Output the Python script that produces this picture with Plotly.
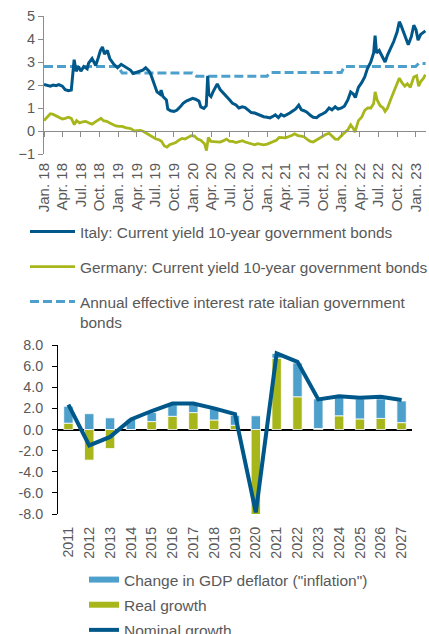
import plotly.graph_objects as go

# ---------------- Top chart data ----------------
italy_dates = [
    "2018-01-01", "2018-01-15", "2018-02-01", "2018-02-15", "2018-03-01", "2018-03-15", "2018-04-01",
    "2018-04-15", "2018-05-01", "2018-05-15", "2018-05-20", "2018-05-29", "2018-06-08", "2018-06-20",
    "2018-07-01", "2018-07-15", "2018-08-01", "2018-08-08", "2018-08-25", "2018-09-05", "2018-09-12",
    "2018-09-25", "2018-10-05", "2018-10-15", "2018-10-25", "2018-11-08", "2018-11-20", "2018-12-10",
    "2018-12-28", "2019-01-15", "2019-02-01", "2019-02-15", "2019-03-01", "2019-03-15", "2019-04-01",
    "2019-04-15", "2019-05-01", "2019-05-15", "2019-06-01", "2019-06-10", "2019-06-25", "2019-07-10",
    "2019-07-25", "2019-07-30", "2019-08-08", "2019-08-25", "2019-09-01", "2019-09-15", "2019-10-01",
    "2019-10-15", "2019-11-01", "2019-11-15", "2019-12-01", "2019-12-15", "2020-01-01", "2020-01-15",
    "2020-02-01", "2020-02-10", "2020-02-25", "2020-03-08", "2020-03-15", "2020-03-20", "2020-03-31",
    "2020-04-10", "2020-04-20", "2020-05-01", "2020-05-15", "2020-06-01", "2020-06-15", "2020-07-01",
    "2020-07-15", "2020-08-01", "2020-08-15", "2020-09-01", "2020-09-15", "2020-10-01", "2020-10-15",
    "2020-11-01", "2020-11-15", "2020-12-01", "2020-12-15", "2021-01-01", "2021-01-15", "2021-02-01",
    "2021-02-10", "2021-02-25", "2021-03-10", "2021-03-25", "2021-04-08", "2021-04-22", "2021-05-08",
    "2021-05-20", "2021-06-05", "2021-06-18", "2021-07-01", "2021-07-15", "2021-08-01", "2021-08-15",
    "2021-09-01", "2021-09-15", "2021-10-01", "2021-10-15", "2021-11-01", "2021-11-15", "2021-12-01",
    "2021-12-15", "2022-01-01", "2022-01-15", "2022-02-01", "2022-02-15", "2022-03-01", "2022-03-10",
    "2022-03-25", "2022-04-10", "2022-04-25", "2022-05-08", "2022-05-25", "2022-06-08", "2022-06-15",
    "2022-06-22", "2022-07-05", "2022-07-20", "2022-08-03", "2022-08-15", "2022-09-01", "2022-09-15",
    "2022-10-01", "2022-10-12", "2022-10-20", "2022-10-28", "2022-11-10", "2022-11-25", "2022-12-10",
    "2022-12-22", "2023-01-02", "2023-01-12", "2023-01-25", "2023-02-08", "2023-02-17",
]
italy_vals = [
    2.02, 2.00, 1.95, 2.00, 1.97, 2.02, 1.95,
    1.80, 1.75, 1.78, 2.20, 3.10, 2.60, 2.80,
    2.60, 2.80, 2.70, 2.95, 3.15, 3.00, 2.85,
    3.20, 3.50, 3.65, 3.35, 3.50, 3.15, 2.90,
    2.75, 2.90, 2.80, 2.70, 2.65, 2.50, 2.55,
    2.60, 2.65, 2.75, 2.60, 2.45, 2.10, 1.70,
    1.60, 1.78, 1.50, 1.35, 0.95, 0.88, 0.85,
    0.90, 1.05, 1.20, 1.30, 1.35, 1.42, 1.38,
    1.30, 1.05, 0.98, 1.10, 2.40, 1.60, 1.50,
    1.70, 1.90, 2.05, 1.80, 1.65, 1.50, 1.35,
    1.20, 1.13, 1.00, 1.05, 1.02, 0.90, 0.80,
    0.78, 0.72, 0.68, 0.62, 0.60, 0.57, 0.65,
    0.70, 0.58, 0.72, 0.65, 0.70, 0.78, 0.88,
    0.95, 1.12, 0.92, 0.88, 0.82, 0.68, 0.60,
    0.58, 0.68, 0.75, 0.82, 1.00, 0.92, 1.05,
    0.95, 1.00, 1.08, 1.35, 1.70, 1.60, 1.45,
    1.90, 2.10, 2.35, 2.70, 3.00, 3.40, 4.15,
    3.40, 3.50, 3.20, 3.00, 3.30, 3.60, 3.90,
    4.30, 4.75, 4.60, 4.40, 4.10, 3.75, 4.10,
    4.60, 4.40, 3.95, 4.20, 4.30, 4.35,
]

germany_dates = [
    "2018-01-01", "2018-01-15", "2018-02-01", "2018-02-15", "2018-03-01", "2018-03-15", "2018-04-01",
    "2018-04-15", "2018-05-01", "2018-05-15", "2018-05-30", "2018-06-10", "2018-06-25", "2018-07-10",
    "2018-07-25", "2018-08-10", "2018-08-25", "2018-09-10", "2018-09-25", "2018-10-08", "2018-10-20",
    "2018-11-05", "2018-11-20", "2018-12-05", "2018-12-20", "2019-01-05", "2019-01-20", "2019-02-05",
    "2019-02-20", "2019-03-05", "2019-03-20", "2019-04-05", "2019-04-20", "2019-05-05", "2019-05-20",
    "2019-06-05", "2019-06-20", "2019-07-05", "2019-07-20", "2019-08-01", "2019-08-15", "2019-08-28",
    "2019-09-10", "2019-09-25", "2019-10-10", "2019-10-25", "2019-11-10", "2019-11-25", "2019-12-10",
    "2019-12-25", "2020-01-10", "2020-01-25", "2020-02-10", "2020-02-28", "2020-03-09", "2020-03-18",
    "2020-03-30", "2020-04-15", "2020-04-30", "2020-05-15", "2020-06-01", "2020-06-15", "2020-07-01",
    "2020-07-15", "2020-08-01", "2020-08-15", "2020-09-01", "2020-09-15", "2020-10-01", "2020-10-15",
    "2020-11-01", "2020-11-15", "2020-12-01", "2020-12-15", "2021-01-01", "2021-01-15", "2021-02-01",
    "2021-02-15", "2021-03-01", "2021-03-15", "2021-04-01", "2021-04-15", "2021-05-01", "2021-05-15",
    "2021-06-01", "2021-06-15", "2021-07-01", "2021-07-15", "2021-08-01", "2021-08-15", "2021-09-01",
    "2021-09-15", "2021-10-01", "2021-10-15", "2021-11-01", "2021-11-15", "2021-12-01", "2021-12-15",
    "2022-01-01", "2022-01-15", "2022-02-01", "2022-02-15", "2022-03-01", "2022-03-08", "2022-03-25",
    "2022-04-10", "2022-04-25", "2022-05-10", "2022-05-25", "2022-06-08", "2022-06-15", "2022-06-25",
    "2022-07-10", "2022-07-25", "2022-08-03", "2022-08-15", "2022-09-01", "2022-09-15", "2022-10-01",
    "2022-10-12", "2022-10-25", "2022-11-08", "2022-11-20", "2022-12-05", "2022-12-22", "2023-01-05",
    "2023-01-15", "2023-01-25", "2023-02-08", "2023-02-17",
]
germany_vals = [
    0.45, 0.60, 0.75, 0.72, 0.65, 0.60, 0.52,
    0.55, 0.60, 0.55, 0.28, 0.45, 0.35, 0.40,
    0.42, 0.35, 0.30, 0.40, 0.50, 0.55, 0.45,
    0.42, 0.35, 0.28, 0.22, 0.20, 0.20, 0.15,
    0.12, 0.10, 0.00, 0.00, 0.03, -0.02, -0.10,
    -0.20, -0.30, -0.35, -0.38, -0.45, -0.65, -0.70,
    -0.60, -0.55, -0.50, -0.40, -0.32, -0.35, -0.28,
    -0.20, -0.22, -0.35, -0.40, -0.55, -0.85, -0.28,
    -0.45, -0.45, -0.48, -0.48, -0.42, -0.35, -0.45,
    -0.45, -0.50, -0.45, -0.42, -0.48, -0.52, -0.58,
    -0.60, -0.55, -0.57, -0.60, -0.57, -0.52, -0.48,
    -0.40, -0.28, -0.30, -0.30, -0.25, -0.20, -0.12,
    -0.20, -0.22, -0.25, -0.35, -0.45, -0.48, -0.38,
    -0.30, -0.20, -0.15, -0.10, -0.22, -0.35, -0.36,
    -0.18, -0.08, 0.05, 0.27, 0.10, -0.05, 0.45,
    0.60, 0.90, 1.00, 1.00, 1.20, 1.70, 1.35,
    1.10, 1.00, 0.85, 1.00, 1.40, 1.70, 2.00,
    2.30, 2.10, 1.95, 2.05, 1.90, 2.35, 2.40,
    1.95, 2.15, 2.30, 2.45,
]

eff_dates = ["2018-01-01", "2018-12-31", "2019-01-20", "2019-12-31", "2020-01-20", "2020-12-31",
             "2021-01-15", "2021-12-31", "2022-01-15", "2022-12-31", "2023-01-15", "2023-02-18"]
eff_vals = [2.80, 2.80, 2.52, 2.52, 2.38, 2.38, 2.54, 2.54, 2.80, 2.80, 2.94, 2.94]

top_tickvals = ["2018-01-01", "2018-04-01", "2018-07-01", "2018-10-01", "2019-01-01", "2019-04-01",
                "2019-07-01", "2019-10-01", "2020-01-01", "2020-04-01", "2020-07-01", "2020-10-01",
                "2021-01-01", "2021-04-01", "2021-07-01", "2021-10-01", "2022-01-01", "2022-04-01",
                "2022-07-01", "2022-10-01", "2023-01-01"]
top_ticktext = ["Jan. 18", "Apr. 18", "Jul. 18", "Oct. 18", "Jan. 19", "Apr. 19", "Jul. 19", "Oct. 19",
                "Jan. 20", "Apr. 20", "Jul. 20", "Oct. 20", "Jan. 21", "Apr. 21", "Jul. 21", "Oct. 21",
                "Jan. 22", "Apr. 22", "Jul. 22", "Oct. 22", "Jan. 23"]

# ---------------- Bottom chart data ----------------
years = ["2011", "2012", "2013", "2014", "2015", "2016", "2017", "2018", "2019",
         "2020", "2021", "2022", "2023", "2024", "2025", "2026", "2027"]
real_growth = [0.6, -2.9, -1.8, 0.0, 0.75, 1.25, 1.6, 0.9, 0.4, -9.0, 6.75, 3.1, 0.1, 1.3, 1.0, 1.05, 0.65]
deflator = [1.6, 1.5, 1.1, 0.95, 0.85, 1.1, 0.75, 1.05, 0.93, 1.3, 0.45, 3.2, 2.8, 1.75, 1.9, 1.85, 2.05]
nominal = [2.35, -1.5, -0.7, 0.95, 1.75, 2.45, 2.45, 2.0, 1.45, -7.85, 7.2, 6.4, 2.85, 3.15, 3.0, 3.1, 2.8]
bottom_ticks = ["8.0", "6.0", "4.0", "2.0", "0.0", "-2.0", "-4.0", "-6.0", "-8.0"]
bottom_tickvals = [8, 6, 4, 2, 0, -2, -4, -6, -8]

# ---------------- Styles ----------------
FONT = "Liberation Sans, Arial, sans-serif"
TXT = "#595959"
DARK = "#00588A"
GREEN = "#A7B71B"
LBLUE = "#4EA0CC"
GRAY = "#8C8C8C"
W, H = 429, 634

def py(p):
    return 1 - p / H

top_dom = [py(154), py(16)]
bot_dom = [py(514), py(345)]
zero_pos = top_dom[0] + (top_dom[1] - top_dom[0]) / 6.0
x_range = ["2018-01-01", "2023-02-20"]

fig = go.Figure()

fig.add_trace(go.Scatter(
    x=germany_dates, y=germany_vals, mode="lines", xaxis="x", yaxis="y",
    line=dict(color=GREEN, width=2.8),
    name="Germany: Current yield 10-year government bonds",
    legend="legend", legendgroup="g2", legendrank=2, hoverinfo="skip"))
fig.add_trace(go.Scatter(
    x=eff_dates, y=eff_vals, mode="lines", xaxis="x2", yaxis="y",
    line=dict(color=LBLUE, width=3, dash="9px,4px"),
    name="Annual effective interest rate italian government<br>bonds",
    legend="legend", legendgroup="g3", legendrank=3, hoverinfo="skip"))
fig.add_trace(go.Scatter(
    x=italy_dates, y=italy_vals, mode="lines", xaxis="x2", yaxis="y",
    line=dict(color=DARK, width=3),
    name="Italy: Current yield 10-year government bonds",
    legend="legend", legendgroup="g1", legendrank=1, hoverinfo="skip"))

# bottom bars
fig.add_trace(go.Bar(
    x=years, y=real_growth, xaxis="x3", yaxis="y3", marker=dict(color=GREEN, line=dict(color="white", width=0.8)),
    showlegend=False, name="Real growth", hoverinfo="skip"))
fig.add_trace(go.Bar(
    x=years, y=deflator, xaxis="x3", yaxis="y3", marker=dict(color=LBLUE, line=dict(color="white", width=0.8)),
    showlegend=False, name="Change in GDP deflator", hoverinfo="skip"))
fig.add_trace(go.Scatter(
    x=years, y=nominal, mode="lines", xaxis="x3", yaxis="y3",
    line=dict(color=DARK, width=4), showlegend=False, name="Nominal growth", hoverinfo="skip"))

# legend entries for bottom chart
for nm, col, wd, rk in [('Change in GDP deflator ("inflation")', LBLUE, 6, 1),
                         ("Real growth", GREEN, 6, 2),
                         ("Nominal growth", DARK, 4, 3)]:
    fig.add_trace(go.Scatter(
        x=[None], y=[None], mode="lines", xaxis="x3", yaxis="y3",
        line=dict(color=col, width=wd), name=nm, legend="legend2",
        legendgroup="b%d" % rk, legendrank=rk, showlegend=True))

fig.update_layout(
    width=W, height=H, margin=dict(l=0, r=0, t=0, b=0, autoexpand=False),
    paper_bgcolor="white", plot_bgcolor="white",
    font=dict(family=FONT, size=14, color=TXT),
    barmode="relative", bargap=0.55,
    xaxis=dict(domain=[44 / W, 426 / W], anchor="y", type="date", range=x_range,
               tickmode="array", tickvals=top_tickvals, ticktext=top_ticktext,
               tickangle=-90, showline=False, ticks="", showgrid=False, zeroline=False,
               ticklabelstandoff=5, automargin=False, tickfont=dict(size=15, color=TXT)),
    xaxis2=dict(domain=[44 / W, 426 / W], overlaying="x", anchor="free", position=zero_pos,
                type="date", range=x_range, tickmode="array", tickvals=top_tickvals,
                showticklabels=False, ticks="outside", ticklen=5, tickcolor=GRAY,
                showline=True, linecolor=GRAY, linewidth=1, showgrid=False, zeroline=False),
    yaxis=dict(domain=top_dom, anchor="x", range=[-1, 5], dtick=1, tick0=0,
               showline=True, linecolor=GRAY, ticks="outside", ticklen=5, tickcolor=GRAY,
               showgrid=False, zeroline=False, automargin=False, tickfont=dict(size=14.5, color=TXT)),
    xaxis3=dict(domain=[58 / W, 412 / W], anchor="y3", type="category",
                range=[-0.5, len(years) - 0.5], tickangle=-90, showline=False, ticks="",
                showgrid=False, zeroline=False, ticklabelstandoff=9, automargin=False,
                tickfont=dict(size=14.3, color=TXT)),
    yaxis3=dict(domain=bot_dom, anchor="x3", range=[-8, 8], tickmode="array",
                tickvals=bottom_tickvals, ticktext=bottom_ticks,
                showline=True, linecolor="black", linewidth=1, ticks="outside", ticklen=5,
                tickcolor="black", showgrid=False, zeroline=True, zerolinecolor="black",
                zerolinewidth=1.5, ticklabelstandoff=6, automargin=False,
                tickfont=dict(size=14.3, color=TXT)),
    legend=dict(x=25 / W, xanchor="left", y=py(215), yanchor="top", bgcolor="rgba(0,0,0,0)",
                font=dict(size=15.4, color=TXT), itemwidth=45, tracegroupgap=12, valign="top",
                traceorder="grouped"),
    legend2=dict(x=84 / W, xanchor="left", y=py(563), yanchor="top", bgcolor="rgba(0,0,0,0)",
                 font=dict(size=15.5, color=TXT), itemwidth=30, tracegroupgap=2,
                 traceorder="grouped"),
)

fig.write_html("out.html")
